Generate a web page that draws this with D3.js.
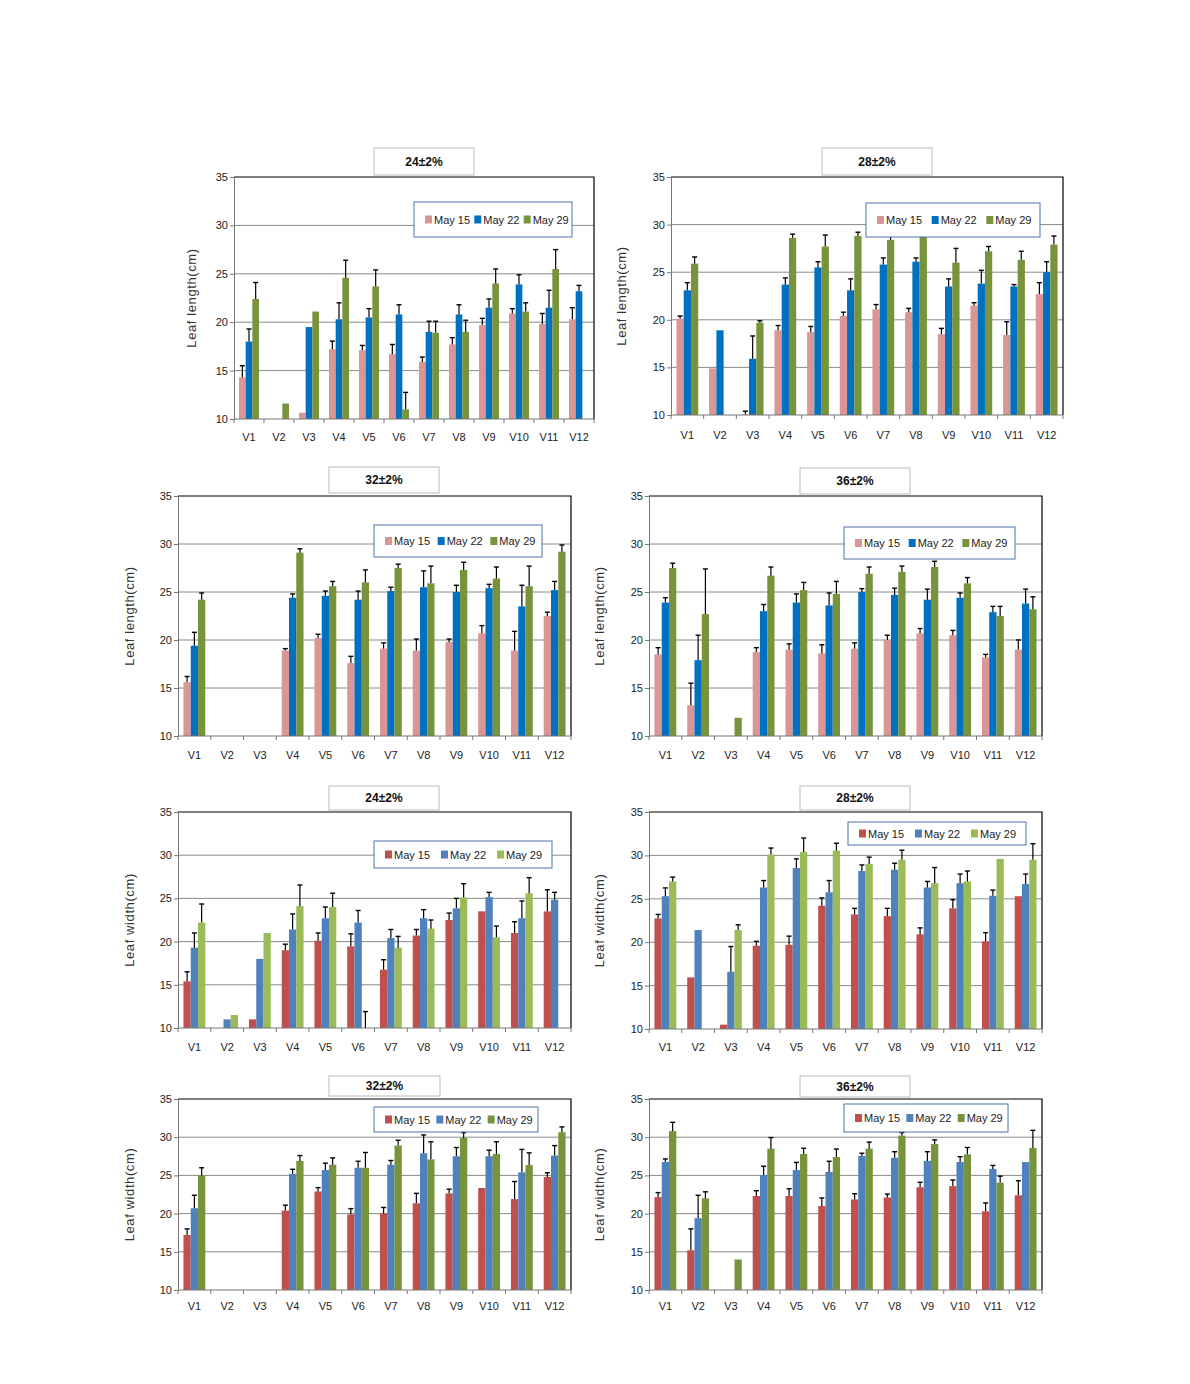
<!DOCTYPE html>
<html><head><meta charset="utf-8">
<script src="https://cdn.jsdelivr.net/npm/d3@7"></script>
<style>
body{margin:0;background:#fff}
svg{display:block}
text{font-family:"Liberation Sans Narrow","Arial Narrow","Liberation Sans",Arial,sans-serif}
</style>
</head><body>
<svg id="c" width="1190" height="1384"></svg>
<script>
// ---------- DATA ----------
const categories = ["V1","V2","V3","V4","V5","V6","V7","V8","V9","V10","V11","V12"];
const seriesNames = ["May 15","May 22","May 29"];
const yTicks = [10,15,20,25,30,35];
const titles = ["24\u00b12%","28\u00b12%","32\u00b12%","36\u00b12%","24\u00b12%","28\u00b12%","32\u00b12%","36\u00b12%"];
const yLabels = ["Leaf length(cm)","Leaf length(cm)","Leaf length(cm)","Leaf length(cm)",
                 "Leaf width(cm)","Leaf width(cm)","Leaf width(cm)","Leaf width(cm)"];

// Leaf length, 24±2%
const len24_may15 = [14.3,null,10.65,17.2,17.1,16.7,15.9,17.7,19.7,20.9,19.8,20.3];
const len24_may22 = [18.0,null,19.5,20.3,20.5,20.8,19.0,20.8,21.5,23.9,21.5,23.2];
const len24_may29 = [22.4,11.6,21.1,24.6,23.7,11.0,18.9,19.0,24.0,21.1,25.5,null];
const len24_may15_sd = [1.2,null,null,0.85,0.5,1.0,0.5,0.7,0.7,0.5,1.1,1.2];
const len24_may22_sd = [1.3,null,null,1.7,0.9,1.0,1.1,1.0,0.9,1.0,1.8,0.6];
const len24_may29_sd = [1.7,null,null,1.8,1.7,1.75,1.2,1.2,1.5,0.9,2.0,null];

// Leaf length, 28±2%
const len28_may15 = [20.1,14.9,10.05,18.9,18.7,20.4,21.1,20.8,18.5,21.5,18.4,22.7];
const len28_may22 = [23.1,18.9,15.9,23.7,25.5,23.1,25.8,26.1,23.5,23.8,23.5,25.0];
const len28_may29 = [25.9,null,19.7,28.6,27.7,28.8,28.4,28.8,26.0,27.2,26.3,27.9];
const len28_may15_sd = [0.3,null,0.35,0.5,0.6,0.4,0.5,0.4,0.6,0.3,1.4,1.2];
const len28_may22_sd = [0.8,null,2.4,0.7,0.6,1.2,0.7,0.4,0.8,1.4,0.2,1.1];
const len28_may29_sd = [0.7,null,0.2,0.4,1.2,0.4,0.6,0.5,1.5,0.5,0.9,0.9];

// Leaf length, 32±2%
const len32_may15 = [15.6,null,null,18.9,20.2,17.6,19.1,18.9,19.8,20.7,18.9,22.5];
const len32_may22 = [19.4,null,null,24.4,24.6,24.2,25.1,25.5,25.0,25.4,23.5,25.2];
const len32_may29 = [24.2,null,null,29.1,25.6,26.0,27.5,25.9,27.3,26.4,25.6,29.2];
const len32_may15_sd = [0.6,null,null,0.2,0.4,0.7,0.6,1.2,0.3,0.8,2.0,0.4];
const len32_may22_sd = [1.4,null,null,0.4,0.5,0.9,0.4,1.7,0.7,0.4,2.2,0.9];
const len32_may29_sd = [0.7,null,null,0.4,0.5,1.3,0.4,1.8,0.8,1.2,2.1,0.7];

// Leaf length, 36±2%
const len36_may15 = [18.5,13.2,null,18.75,19.0,18.6,19.1,20.0,20.7,20.5,18.2,19.0];
const len36_may22 = [23.9,17.9,null,23.0,23.9,23.6,25.0,24.7,24.2,24.4,22.9,23.8];
const len36_may29 = [27.5,22.7,11.9,26.7,25.2,24.8,26.9,27.1,27.6,25.9,22.5,23.2];
const len36_may15_sd = [0.7,2.3,null,0.45,0.6,0.9,0.6,0.5,0.5,0.5,0.3,1.0];
const len36_may22_sd = [0.5,2.6,null,0.7,0.9,1.3,0.35,0.7,1.1,0.5,0.6,1.5];
const len36_may29_sd = [0.5,4.7,null,0.9,0.8,1.3,0.7,0.6,0.6,0.6,1.0,1.3];

// Leaf width, 24±2%
const wid24_may15 = [15.4,null,11.0,19.0,20.1,19.45,16.75,20.7,22.5,23.5,21.0,23.5];
const wid24_may22 = [19.3,11.0,18.0,21.4,22.7,22.2,20.4,22.7,23.85,25.15,22.7,24.85];
const wid24_may29 = [22.2,11.5,21.0,24.1,24.0,10.0,19.3,21.5,25.1,20.5,25.6,null];
const wid24_may15_sd = [1.1,null,null,0.7,0.9,1.45,1.15,0.7,0.8,null,1.3,2.5];
const wid24_may22_sd = [1.7,null,null,1.8,1.3,1.4,1.0,1.0,1.15,0.55,2.0,0.85];
const wid24_may29_sd = [2.15,null,null,2.45,1.6,1.9,1.3,1.0,1.6,1.3,1.8,null];

// Leaf width, 28±2%
const wid28_may15 = [22.75,15.95,10.5,19.6,19.7,24.2,23.2,23.0,20.9,23.9,20.1,25.3];
const wid28_may22 = [25.3,21.4,16.6,26.3,28.55,25.75,28.2,28.35,26.3,26.8,25.35,26.7];
const wid28_may29 = [27.0,null,21.4,30.1,30.4,30.55,29.0,29.5,26.8,27.0,29.6,29.5];
const wid28_may15_sd = [0.45,null,null,0.5,1.0,0.9,0.7,0.9,0.75,1.0,1.0,null];
const wid28_may22_sd = [0.95,null,2.9,0.8,1.05,1.35,0.7,0.75,0.7,1.05,0.65,1.15];
const wid28_may29_sd = [0.5,null,0.6,0.75,1.6,0.85,0.8,1.1,1.8,1.2,null,1.85];

// Leaf width, 32±2%
const wid32_may15 = [17.2,null,null,20.4,22.9,19.9,20.0,21.35,22.65,23.35,21.9,24.8];
const wid32_may22 = [20.7,null,null,25.2,25.7,26.0,26.4,27.9,27.5,27.5,25.4,27.6];
const wid32_may29 = [25.0,null,null,26.9,26.4,26.0,28.9,27.1,29.9,27.8,26.35,30.65];
const wid32_may15_sd = [0.8,null,null,0.7,0.5,0.75,0.8,1.3,0.55,null,2.3,0.55];
const wid32_may22_sd = [1.7,null,null,0.6,0.9,0.85,0.55,2.4,1.15,0.8,3.0,1.3];
const wid32_may29_sd = [1.0,null,null,0.7,0.9,2.0,0.7,2.3,0.7,1.6,1.6,0.7];

// Leaf width, 36±2%
const wid36_may15 = [22.15,15.2,null,22.3,22.3,21.0,21.85,22.1,23.45,23.6,20.3,22.4];
const wid36_may22 = [26.75,19.4,null,25.05,25.7,25.45,27.55,27.3,26.9,26.75,25.85,26.75];
const wid36_may29 = [30.8,22.0,14.0,28.5,27.8,27.4,28.5,30.2,29.1,27.75,24.05,28.6];
const wid36_may15_sd = [0.6,2.8,null,0.7,0.95,1.05,0.75,0.45,0.65,0.8,1.1,1.9];
const wid36_may22_sd = [0.4,3.0,null,1.15,1.0,1.4,0.35,0.8,1.2,0.7,0.45,null];
const wid36_may29_sd = [1.15,0.85,null,1.45,0.75,1.05,0.85,0.4,0.55,0.9,0.85,2.3];

// ---------- STYLE / LAYOUT ----------
const palLength = ["#d99694","#0070c0","#77933c"];
const palWidthA = ["#c0504d","#4f81bd","#9bbb59"];
const palWidthB = ["#c0504d","#4f81bd","#77933c"];

const panelSeries = [
  {v:[len24_may15,len24_may22,len24_may29], e:[len24_may15_sd,len24_may22_sd,len24_may29_sd], pal:palLength},
  {v:[len28_may15,len28_may22,len28_may29], e:[len28_may15_sd,len28_may22_sd,len28_may29_sd], pal:palLength},
  {v:[len32_may15,len32_may22,len32_may29], e:[len32_may15_sd,len32_may22_sd,len32_may29_sd], pal:palLength},
  {v:[len36_may15,len36_may22,len36_may29], e:[len36_may15_sd,len36_may22_sd,len36_may29_sd], pal:palLength},
  {v:[wid24_may15,wid24_may22,wid24_may29], e:[wid24_may15_sd,wid24_may22_sd,wid24_may29_sd], pal:palWidthA},
  {v:[wid28_may15,wid28_may22,wid28_may29], e:[wid28_may15_sd,wid28_may22_sd,wid28_may29_sd], pal:palWidthA},
  {v:[wid32_may15,wid32_may22,wid32_may29], e:[wid32_may15_sd,wid32_may22_sd,wid32_may29_sd], pal:palWidthB},
  {v:[wid36_may15,wid36_may22,wid36_may29], e:[wid36_may15_sd,wid36_may22_sd,wid36_may29_sd], pal:palWidthB}
];

const layout = [
  {L:234,R:594,T:177,B:419, tx:374,ty:148,tw:100,th:27, lx:414,ly:202,lw:158,lh:35, yl:192, xl:437},
  {L:671,R:1063,T:177,B:415, tx:822,ty:148,tw:110,th:27, lx:866,ly:203,lw:174,lh:34, yl:622, xl:435},
  {L:178,R:571,T:496,B:736, tx:329,ty:467,tw:110,th:26, lx:374,ly:525,lw:168,lh:32, yl:130, xl:755},
  {L:649,R:1042,T:496,B:736, tx:800,ty:468,tw:110,th:26, lx:844,ly:527,lw:171,lh:32, yl:600, xl:755},
  {L:178,R:571,T:812,B:1028, tx:329,ty:786,tw:110,th:24, lx:374,ly:841,lw:178,lh:27, yl:130, xl:1047},
  {L:649,R:1042,T:812,B:1029, tx:800,ty:786,tw:110,th:24, lx:848,ly:822,lw:178,lh:23, yl:600, xl:1047},
  {L:178,R:571,T:1099,B:1290, tx:329,ty:1076,tw:111,th:20, lx:374,ly:1107,lw:164,lh:25, yl:130, xl:1306},
  {L:649,R:1042,T:1099,B:1290, tx:800,ty:1076,tw:110,th:21, lx:844,ly:1104,lw:164,lh:28, yl:600, xl:1306}
];

// ---------- DRAW ----------
const svg = d3.select("#c");

layout.forEach((g, pi) => {
  const S = panelSeries[pi];
  const root = svg.append("g");
  const x = d3.scaleBand().domain(categories).range([g.L, g.R]).paddingInner(0).paddingOuter(0);
  const y = d3.scaleLinear().domain([10,35]).range([g.B, g.T]);
  const bw = x.bandwidth() / 4.5;
  const xs = d3.scaleBand().domain([0,1,2]).range([0, bw*3]);

  // gridlines
  root.append("g").selectAll("line").data(yTicks.filter(t => t > 10 && t < 35)).join("line")
    .attr("x1", g.L).attr("x2", g.R)
    .attr("y1", d => y(d)).attr("y2", d => y(d))
    .attr("stroke", "#8a8a8a").attr("stroke-width", 1);

  // bars
  S.v.forEach((vals, si) => {
    const gs = root.append("g");
    const recs = categories.map((c, i) => ({c, i, v: vals[i], e: S.e[si][i]})).filter(d => d.v != null);
    gs.selectAll("rect").data(recs.filter(d => d.v > 10)).join("rect")
      .attr("x", d => x(d.c) + x.bandwidth()/2 - 1.5*bw + xs(si))
      .attr("width", bw)
      .attr("y", d => y(d.v))
      .attr("height", d => y(10) - y(d.v))
      .attr("fill", S.pal[si]);
    const eb = recs.filter(d => d.e != null);
    const cx = d => x(d.c) + x.bandwidth()/2 - 1.5*bw + xs(si) + bw/2;
    gs.selectAll("line.stem").data(eb).join("line").attr("class","stem")
      .attr("x1", cx).attr("x2", cx)
      .attr("y1", d => y(d.v)).attr("y2", d => y(d.v + d.e))
      .attr("stroke", "#000").attr("stroke-width", 1.2);
    gs.selectAll("line.cap").data(eb).join("line").attr("class","cap")
      .attr("x1", d => cx(d) - 2.5).attr("x2", d => cx(d) + 2.5)
      .attr("y1", d => y(d.v + d.e)).attr("y2", d => y(d.v + d.e))
      .attr("stroke", "#000").attr("stroke-width", 1.4);
  });

  // plot border (top/right)
  root.append("path")
    .attr("d", `M${g.L},${g.T}H${g.R}V${g.B}`)
    .attr("fill", "none").attr("stroke", "#000").attr("stroke-width", 1.2);

  // y axis
  const ya = d3.axisLeft(y).tickValues(yTicks).tickSize(4).tickFormat(d3.format("d"));
  const yg = root.append("g").attr("transform", `translate(${g.L},0)`).call(ya);
  yg.select(".domain").attr("stroke", "#777");
  yg.selectAll(".tick line").attr("stroke", "#777");
  yg.selectAll(".tick text").attr("font-size", 11).attr("fill", "#222").attr("x", -6);

  // x axis
  const xg = root.append("g").attr("transform", `translate(0,${g.B})`);
  xg.append("line").attr("x1", g.L).attr("x2", g.R).attr("y1", 0).attr("y2", 0).attr("stroke", "#777");
  const bounds = categories.map(c => x(c)).concat([g.R]);
  xg.selectAll("line.t").data(bounds).join("line").attr("class","t")
    .attr("x1", d => d).attr("x2", d => d).attr("y1", 0).attr("y2", 4).attr("stroke", "#777");
  xg.selectAll("text").data(categories).join("text")
    .attr("x", d => x(d) + x.bandwidth()/2).attr("y", g.xl - g.B + 4)
    .attr("text-anchor", "middle").attr("font-size", 11).attr("fill", "#222").text(d => d);

  // y label
  root.append("text")
    .attr("transform", `translate(${g.yl + 4},${(g.T + g.B)/2}) rotate(-90)`)
    .attr("text-anchor", "middle").attr("font-size", 13).attr("letter-spacing", 0.6)
    .attr("fill", "#333").text(yLabels[pi]);

  // title box
  root.append("rect").attr("x", g.tx).attr("y", g.ty).attr("width", g.tw).attr("height", g.th)
    .attr("fill", "#fff").attr("stroke", "#bbb");
  root.append("text").attr("x", g.tx + g.tw/2).attr("y", g.ty + g.th/2 + 4)
    .attr("text-anchor", "middle").attr("font-size", 12).attr("font-weight", "bold")
    .attr("fill", "#111").text(titles[pi]);

  // legend
  const lg = root.append("g");
  lg.append("rect").attr("x", g.lx).attr("y", g.ly).attr("width", g.lw).attr("height", g.lh)
    .attr("fill", "#fff").attr("stroke", "#4a72a8").attr("stroke-width", 1);
  const step = (g.lw - 10) / 3;
  seriesNames.forEach((n, si) => {
    const ix = g.lx + 11 + si * step;
    const iy = g.ly + g.lh/2;
    lg.append("rect").attr("x", ix).attr("y", iy - 4).attr("width", 7).attr("height", 8).attr("fill", S.pal[si]);
    lg.append("text").attr("x", ix + 9).attr("y", iy + 4).attr("font-size", 11).attr("fill", "#222").text(n);
  });
});
</script>
</body></html>
